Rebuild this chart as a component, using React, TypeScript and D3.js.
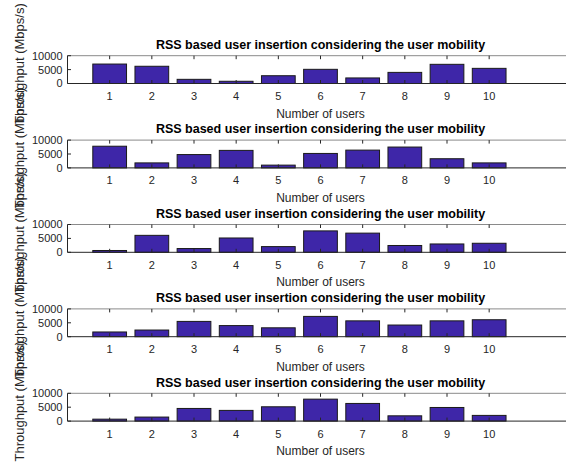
import React from "react";
import * as d3 from "d3";

// Number of users on the x axis
const users = [1, 2, 3, 4, 5, 6, 7, 8, 9, 10];

// Throughput per user (Mbps/s), one series per subplot
const throughputRun1 = [7000, 6200, 1500, 800, 2800, 5100, 2000, 4000, 6900, 5450];
const throughputRun2 = [7800, 1800, 4800, 6300, 1000, 5200, 6400, 7500, 3300, 1800];
const throughputRun3 = [650, 6100, 1350, 5150, 2050, 7700, 6900, 2450, 3000, 3250];
const throughputRun4 = [1700, 2400, 5500, 4000, 3200, 7300, 5700, 4200, 5700, 6100];
const throughputRun5 = [700, 1450, 4550, 3850, 5150, 7900, 6350, 1900, 4900, 2050];

const runs = [throughputRun1, throughputRun2, throughputRun3, throughputRun4, throughputRun5];

const yTicks = [0, 5000, 10000];

const titleText = "RSS based user insertion considering the user mobility";
const xLabelText = "Number of users";
const yLabelText = "Throughput (Mbps/s)";

// Layout
const W = 566;
const H = 464;
const axLeft = 67.5;
const axRight = 573.5; // axes run slightly past the right edge of the figure
const firstTop = 55.7;
const panelStep = 84.4;
const panelH = 27.8;

const barColor = "#3E26A8";
const axisColor = "#262626";
const font = "'Liberation Sans', Arial, Helvetica, sans-serif";

const x = d3.scaleLinear().domain([0, 12]).range([axLeft, axRight]);
const barW = (x(1) - x(0)) * 0.8;

function Panel({ values, index }: { values: number[]; index: number }) {
  const top = firstTop + index * panelStep;
  const bottom = top + panelH;
  const y = d3.scaleLinear().domain([0, 10000]).range([bottom, top]);
  const cx = (axLeft + axRight) / 2;
  const midY = (top + bottom) / 2;
  return (
    <g>
      {/* title */}
      <text
        x={cx}
        y={top - 6.7}
        textAnchor="middle"
        fontFamily={font}
        fontWeight="bold"
        fontSize={12.5}
        fill="#000"
      >
        {titleText}
      </text>
      {/* bars */}
      {values.map((v, i) => (
        <rect
          key={i}
          x={x(users[i]) - barW / 2}
          y={y(v)}
          width={barW}
          height={y(0) - y(v)}
          fill={barColor}
          stroke="#1a1a1a"
          strokeWidth={1}
        />
      ))}
      {/* box top */}
      <line x1={axLeft} x2={axRight} y1={top} y2={top} stroke="#8a8a8a" strokeWidth={1} />
      {/* bottom axis */}
      <line x1={axLeft} x2={axRight} y1={bottom} y2={bottom} stroke={axisColor} strokeWidth={1} />
      {/* left axis */}
      <line x1={axLeft} x2={axLeft} y1={top} y2={bottom} stroke={axisColor} strokeWidth={1} />
      {/* x ticks, top and bottom */}
      {users.map((u) => (
        <g key={u}>
          <line x1={x(u)} x2={x(u)} y1={top} y2={top + 3.5} stroke={axisColor} strokeWidth={1} />
          <line x1={x(u)} x2={x(u)} y1={bottom} y2={bottom - 3.5} stroke={axisColor} strokeWidth={1} />
          <text
            x={x(u)}
            y={bottom + 16.5}
            textAnchor="middle"
            fontFamily={font}
            fontSize={11}
            fill={axisColor}
          >
            {u}
          </text>
        </g>
      ))}
      {/* y ticks */}
      {yTicks.map((t) => (
        <g key={t}>
          <line x1={axLeft} x2={axLeft + 3.5} y1={y(t)} y2={y(t)} stroke={axisColor} strokeWidth={1} />
          <text
            x={axLeft - 5}
            y={y(t)}
            dy="0.36em"
            textAnchor="end"
            fontFamily={font}
            fontSize={11}
            fill={axisColor}
          >
            {t}
          </text>
        </g>
      ))}
      {/* x label */}
      <text
        x={cx}
        y={bottom + 34}
        textAnchor="middle"
        fontFamily={font}
        fontSize={12}
        fill={axisColor}
      >
        {xLabelText}
      </text>
      {/* y label */}
      <text
        transform={`translate(24, ${midY - 6}) rotate(-90)`}
        textAnchor="middle"
        fontFamily={font}
        fontSize={13}
        fill={axisColor}
      >
        {yLabelText}
      </text>
    </g>
  );
}

export default function App() {
  return (
    <svg
      width={W}
      height={H}
      viewBox={`0 0 ${W} ${H}`}
      style={{ position: "absolute", left: 0, top: 0, background: "#fff" }}
    >
      <rect x={0} y={0} width={W} height={H} fill="#fff" />
      {runs.map((vals, i) => (
        <Panel key={i} values={vals} index={i} />
      ))}
    </svg>
  );
}
